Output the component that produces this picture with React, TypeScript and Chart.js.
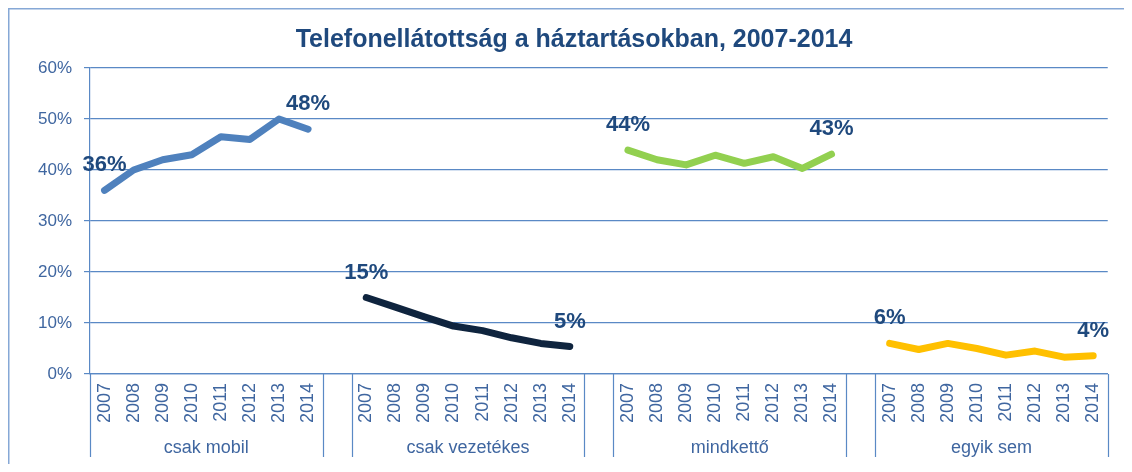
import React, { useEffect, useRef } from 'react';
import { Chart, registerables } from 'chart.js';

Chart.register(...registerables);

const years = ['2007', '2008', '2009', '2010', '2011', '2012', '2013', '2014'];
const groupNames = ['csak mobil', 'csak vezetékes', 'mindkettő', 'egyik sem'];
const csakMobil = [36, 40, 42, 43, 46.5, 46, 50, 48];
const csakVezetekes = [15, 13.1, 11.2, 9.4, 8.5, 7.1, 6.0, 5.4];
const mindketto = [43.9, 42, 41, 42.9, 41.3, 42.6, 40.3, 43.1];
const egyikSem = [6, 4.8, 6, 5, 3.7, 4.5, 3.3, 3.6];
const yTickValues = [0, 10, 20, 30, 40, 50, 60];
const titleText = 'Telefonellátottság a háztartásokban, 2007-2014';

const FONT = '"Liberation Sans", Arial, sans-serif';
const SLOT = years.length + 1;

const categories: string[] = [];
groupNames.forEach((_, g) => {
  years.forEach((y) => categories.push(y));
  if (g < groupNames.length - 1) categories.push('');
});

function placeSeries(values: number[], g: number): (number | null)[] {
  const arr: (number | null)[] = categories.map(() => null);
  values.forEach((v, i) => {
    arr[g * SLOT + i] = v;
  });
  return arr;
}

const seriesList = [csakMobil, csakVezetekes, mindketto, egyikSem];
const groupCenters = groupNames.map((_, g) => g * SLOT + (years.length - 1) / 2);

const framePlugin = {
  id: 'frame',
  beforeDraw(chart: any) {
    const ctx = chart.ctx;
    ctx.save();
    ctx.strokeStyle = '#86A8D6';
    ctx.lineWidth = 1.5;
    ctx.beginPath();
    ctx.moveTo(0.75, chart.height);
    ctx.lineTo(0.75, 0.75);
    ctx.lineTo(chart.width, 0.75);
    ctx.stroke();
    ctx.restore();
  },
};

const separatorsPlugin = {
  id: 'separators',
  afterDraw(chart: any) {
    const x = chart.scales.x;
    const area = chart.chartArea;
    const ctx = chart.ctx;
    const half = (x.getPixelForValue(1) - x.getPixelForValue(0)) / 2;
    const xs: number[] = [];
    groupNames.forEach((_, g) => {
      xs.push(x.getPixelForValue(g * SLOT) - half);
      xs.push(x.getPixelForValue(g * SLOT + years.length - 1) + half);
    });
    ctx.save();
    ctx.strokeStyle = '#5A89C5';
    ctx.lineWidth = 1.2;
    ctx.beginPath();
    xs.forEach((px) => {
      const p = Math.round(px) + 0.5;
      ctx.moveTo(p, area.bottom);
      ctx.lineTo(p, area.bottom + 83);
    });
    ctx.stroke();
    ctx.restore();
  },
};

const endLabelsPlugin = {
  id: 'endLabels',
  afterDatasetsDraw(chart: any) {
    const ctx = chart.ctx;
    ctx.save();
    ctx.font = `bold 22px ${FONT}`;
    ctx.fillStyle = '#1F497D';
    ctx.textAlign = 'center';
    ctx.textBaseline = 'middle';
    seriesList.forEach((vals, d) => {
      const meta = chart.getDatasetMeta(d);
      [0, vals.length - 1].forEach((i) => {
        const el = meta.data[d * SLOT + i];
        if (!el) return;
        ctx.fillText(`${Math.round(vals[i])}%`, el.x, el.y - 25);
      });
    });
    ctx.restore();
  },
};

export default function App() {
  const ref = useRef<HTMLCanvasElement | null>(null);

  useEffect(() => {
    if (!ref.current) return;
    const colors = ['#4F81BD', '#0F243E', '#92D050', '#FFC000'];
    const chart = new Chart(ref.current, {
      type: 'line',
      data: {
        labels: categories,
        datasets: seriesList.map((vals, g) => ({
          label: groupNames[g],
          data: placeSeries(vals, g),
          borderColor: colors[g],
          backgroundColor: colors[g],
          borderWidth: 7,
          borderCapStyle: 'round',
          borderJoinStyle: 'round',
          pointRadius: 0,
          pointHoverRadius: 0,
          tension: 0,
          fill: false,
          spanGaps: false,
        })),
      },
      options: {
        responsive: false,
        animation: false,
        events: [],
        layout: { padding: { left: 30, right: 14, top: 0, bottom: 0 } },
        plugins: {
          legend: { display: false },
          tooltip: { enabled: false },
          title: {
            display: true,
            text: titleText,
            color: '#1F497D',
            font: { family: FONT, size: 25, weight: 'bold' },
            padding: { top: 17, bottom: 13 },
          },
        },
        scales: {
          x: {
            type: 'category',
            position: 'bottom',
            offset: true,
            weight: 0,
            grid: { display: false, drawTicks: false },
            border: { display: true, color: '#5A89C5', width: 1.2 },
            ticks: {
              autoSkip: false,
              maxRotation: 90,
              minRotation: 90,
              padding: 9,
              color: '#3F66A0',
              font: { family: FONT, size: 18 },
            },
            afterFit: (scale: any) => {
              scale.height = 56;
            },
          },
          x2: {
            type: 'linear',
            position: 'bottom',
            weight: 10,
            min: -0.5,
            max: categories.length - 0.5,
            bounds: 'data',
            grid: { display: false, drawTicks: false },
            border: { display: false },
            afterBuildTicks: (scale: any) => {
              scale.ticks = groupCenters.map((v) => ({ value: v }));
            },
            ticks: {
              autoSkip: false,
              maxRotation: 0,
              minRotation: 0,
              padding: 7,
              color: '#3F66A0',
              font: { family: FONT, size: 18 },
              callback: (_v: any, i: number) => groupNames[i],
            },
            afterFit: (scale: any) => {
              scale.height = 34;
            },
          },
          y: {
            min: 0,
            max: 60,
            afterBuildTicks: (scale: any) => {
              scale.ticks = yTickValues.map((v) => ({ value: v }));
            },
            grid: { color: '#5A89C5', lineWidth: 1.2, tickLength: 6, drawTicks: true },
            border: { display: true, color: '#5A89C5', width: 1.2 },
            ticks: {
              padding: 12,
              color: '#3F66A0',
              font: { family: FONT, size: 17 },
              callback: (v: any) => `${v}%`,
            },
            afterFit: (scale: any) => {
              scale.width = 52;
            },
          },
        },
      } as any,
      plugins: [framePlugin, separatorsPlugin, endLabelsPlugin],
    });
    return () => chart.destroy();
  }, []);

  return (
    <div style={{ width: 1116, height: 456 }}>
      <canvas ref={ref} width={1116} height={456} style={{ display: 'block' }} />
    </div>
  );
}
